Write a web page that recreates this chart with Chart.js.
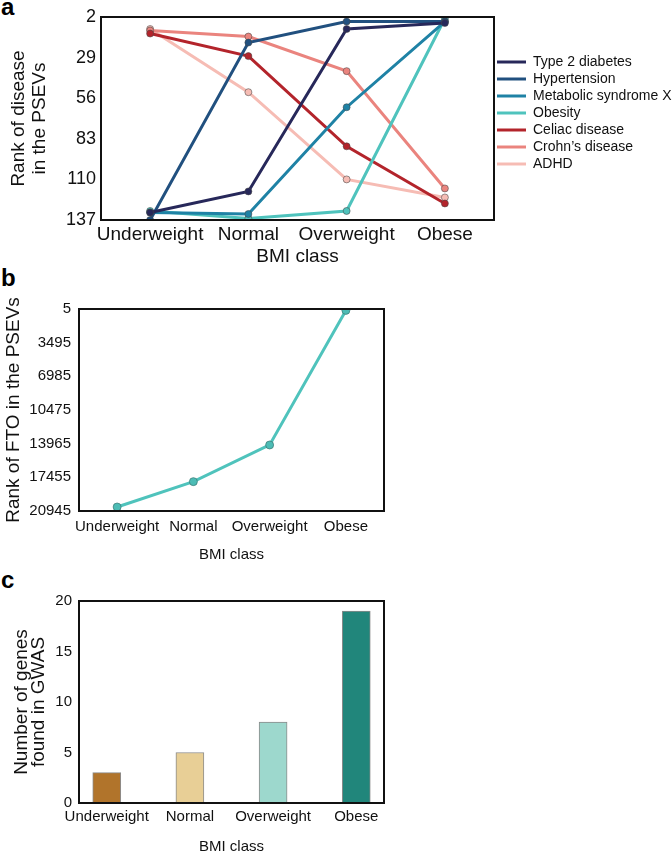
<!DOCTYPE html>
<html>
<head>
<meta charset="utf-8">
<script src="https://cdn.jsdelivr.net/npm/chart.js@4"></script>
<style>
  html, body { margin: 0; padding: 0; background: #fff; overflow: hidden; }
  body { width: 672px; height: 853px; position: relative; }
  canvas { position: absolute; left: 0; }
  .plabel { position: absolute; left: 1px; font: bold 24px "Liberation Sans", Arial, sans-serif; line-height: 24px; color: #000; }
</style>
</head>
<body>
<div class="plabel" style="top:-5px">a</div>
<div class="plabel" style="top:266px">b</div>
<div class="plabel" style="top:568px">c</div>
<canvas id="chartA" width="672" height="270" style="top:0px"></canvas>
<canvas id="chartB" width="672" height="290" style="top:280px"></canvas>
<canvas id="chartC" width="672" height="300" style="top:560px"></canvas>
<script>
// ---------------- data ----------------
const categories = ['Underweight', 'Normal', 'Overweight', 'Obese'];

// Panel a: rank of disease in the PSEVs
const diseaseNames = ['Type 2 diabetes', 'Hypertension', 'Metabolic syndrome X', 'Obesity', 'Celiac disease', 'Crohn\u2019s disease', 'ADHD'];
const type2Diabetes      = [132, 118, 10, 6];
const hypertension       = [137, 19, 5, 5];
const metabolicSyndromeX = [132, 133, 62, 5];
const obesityRank        = [131, 136, 131, 3];
const celiacDisease      = [13, 28, 88, 126];
const crohnsDisease      = [11, 15, 38, 116];
const adhd               = [10, 52, 110, 122];
const diseaseTicks = [2, 29, 56, 83, 110, 137];

// Panel b: rank of FTO in the PSEVs
const ftoRank = [20530, 17900, 14100, 150];
const ftoTicks = [5, 3495, 6985, 10475, 13965, 17455, 20945];

// Panel c: number of genes found in GWAS
const genesFound = [3, 5, 8, 19];
const genesTicks = [0, 5, 10, 15, 20];

// ---------------- styling ----------------
const diseaseColors = ['#27285a', '#21507f', '#1f82a5', '#4fc3bd', '#b3242b', '#ea847e', '#f6bcb4'];
const barColors = ['#b1742b', '#e8cf96', '#9dd8cd', '#21867b'];
const REG = '"Liberation Sans", Arial, sans-serif';

function hasFont(name) {
  const c = document.createElement('canvas').getContext('2d');
  const s = 'Underweight 20945 Obese';
  c.font = '40px monospace';
  const a = c.measureText(s).width;
  c.font = '40px "' + name + '", monospace';
  const b = c.measureText(s).width;
  return Math.abs(a - b) > 0.5;
}
const narrowOK = hasFont('Liberation Sans Narrow');
const NAR = narrowOK ? '"Liberation Sans Narrow", "Liberation Sans", Arial, sans-serif' : REG;
const NARSIZE = narrowOK ? 18 : 15;

Chart.defaults.color = '#111';
Chart.defaults.font.family = REG;
Chart.defaults.animation = false;

const framePlugin = {
  id: 'frame',
  afterDatasetsDraw(chart) {
    const {ctx, chartArea: a} = chart;
    ctx.save();
    ctx.strokeStyle = '#111';
    ctx.lineWidth = 2;
    ctx.strokeRect(a.left, a.top, a.right - a.left, a.bottom - a.top);
    ctx.restore();
  }
};

function fixW(w) { return s => { s.width = w; }; }
function fixH(h) { return s => { s.height = h; }; }
function ticksFrom(arr) { return s => { s.ticks = arr.map(v => ({value: v})); }; }

// ---------------- Panel a ----------------
const seriesA = [type2Diabetes, hypertension, metabolicSyndromeX, obesityRank, celiacDisease, crohnsDisease, adhd];
new Chart(document.getElementById('chartA'), {
  type: 'line',
  data: {
    labels: categories,
    datasets: seriesA.map((d, i) => ({
      label: diseaseNames[i],
      data: d,
      borderColor: diseaseColors[i],
      backgroundColor: diseaseColors[i],
      borderWidth: 3,
      pointRadius: 3.5,
      pointBackgroundColor: diseaseColors[i],
      pointBorderColor: 'rgba(70,70,70,0.55)',
      pointBorderWidth: 1,
      tension: 0,
      fill: false
    }))
  },
  options: {
    responsive: false,
    layout: { padding: { top: 17, right: 0, left: 0, bottom: 0 } },
    plugins: {
      tooltip: { enabled: false },
      legend: {
        position: 'right',
        align: 'start',
        fullSize: true,
        maxWidth: 178,
        title: { display: true, text: '', font: { size: 14, lineHeight: 1 }, padding: { top: 11, bottom: 10 } },
        labels: {
          boxWidth: 29,
          boxHeight: 3,
          padding: 3,
          color: '#111',
          font: { size: 14, family: REG },
          generateLabels(chart) {
            return chart.data.datasets.map((ds, i) => ({
              text: ds.label,
              fillStyle: ds.borderColor,
              strokeStyle: ds.borderColor,
              lineWidth: 0,
              hidden: false,
              datasetIndex: i,
              fontColor: '#111'
            }));
          }
        }
      }
    },
    scales: {
      x: {
        type: 'category',
        offset: true,
        afterFit: fixH(50),
        grid: { display: false, drawTicks: false },
        border: { display: false },
        ticks: { font: { size: 19, family: REG }, padding: 3, color: '#111', maxRotation: 0, autoSkip: false },
        title: { display: true, text: 'BMI class', font: { size: 19, family: REG }, color: '#111', padding: { top: 0, bottom: 2 } }
      },
      y: {
        reverse: true,
        min: 2,
        max: 137,
        afterFit: fixW(101),
        afterBuildTicks: ticksFrom(diseaseTicks),
        grid: { display: false, drawTicks: false },
        border: { display: false },
        ticks: { font: { size: 18, family: REG }, padding: 5, color: '#111', callback: v => String(v) },
        title: { display: true, text: ['Rank of disease', 'in the PSEVs'], font: { size: 19, family: REG, lineHeight: 1.1 }, color: '#111', padding: { top: 8 } }
      }
    }
  },
  plugins: [framePlugin]
});

// ---------------- Panel b ----------------
new Chart(document.getElementById('chartB'), {
  type: 'line',
  data: {
    labels: categories,
    datasets: [{
      label: 'FTO',
      data: ftoRank,
      borderColor: '#4fc3bc',
      backgroundColor: '#4fc3bc',
      borderWidth: 3,
      pointRadius: 4,
      pointBackgroundColor: '#4cbcb5',
      pointBorderColor: 'rgba(60,120,115,0.7)',
      pointBorderWidth: 1,
      tension: 0,
      fill: false
    }]
  },
  options: {
    responsive: false,
    layout: { padding: { top: 29, right: 288, left: 0, bottom: 0 } },
    plugins: { legend: { display: false }, tooltip: { enabled: false } },
    scales: {
      x: {
        type: 'category',
        offset: true,
        afterFit: fixH(59),
        grid: { display: false, drawTicks: false },
        border: { display: false },
        ticks: { font: { size: NARSIZE, family: NAR }, padding: 7, color: '#111', maxRotation: 0, autoSkip: false },
        title: { display: true, text: 'BMI class', font: { size: NARSIZE, family: NAR }, color: '#111', padding: { top: 0, bottom: 6 } }
      },
      y: {
        reverse: true,
        min: 5,
        max: 20945,
        afterFit: fixW(79),
        afterBuildTicks: ticksFrom(ftoTicks),
        grid: { display: false, drawTicks: false },
        border: { display: false },
        ticks: { font: { size: NARSIZE, family: NAR }, padding: 8, color: '#111', callback: v => String(v) },
        title: { display: true, text: 'Rank of FTO in the PSEVs', font: { size: 19, family: REG }, color: '#111', padding: { top: 2 } }
      }
    }
  },
  plugins: [framePlugin]
});

// ---------------- Panel c ----------------
new Chart(document.getElementById('chartC'), {
  type: 'bar',
  data: {
    datasets: [{
      label: 'Number of genes found in GWAS',
      data: genesFound.map((v, i) => ({ x: i, y: v })),
      backgroundColor: barColors,
      borderColor: 'rgba(110,110,110,0.8)',
      borderWidth: 1,
      borderSkipped: false,
      barThickness: 28
    }]
  },
  options: {
    responsive: false,
    layout: { padding: { top: 41, right: 288, left: 0, bottom: 0 } },
    plugins: { legend: { display: false }, tooltip: { enabled: false } },
    scales: {
      x: {
        type: 'linear',
        min: -1 / 3,
        max: 10 / 3,
        offset: false,
        afterFit: fixH(57),
        afterBuildTicks: ticksFrom(categories.map((c, i) => i)),
        grid: { display: false, drawTicks: false },
        border: { display: false },
        ticks: { font: { size: NARSIZE, family: NAR }, padding: 5, color: '#111', maxRotation: 0, autoSkip: false, callback: v => categories[v] },
        title: { display: true, text: 'BMI class', font: { size: NARSIZE, family: NAR }, color: '#111', padding: { top: 0, bottom: 4 } }
      },
      y: {
        min: 0,
        max: 20,
        afterFit: fixW(79),
        afterBuildTicks: ticksFrom(genesTicks),
        grid: { display: false, drawTicks: false },
        border: { display: false },
        ticks: { font: { size: NARSIZE, family: NAR }, padding: 7, color: '#111' },
        title: { display: true, text: ['Number of genes', 'found in GWAS'], font: { size: 19, family: REG, lineHeight: 0.9 }, color: '#111', padding: { top: 13 } }
      }
    }
  },
  plugins: [framePlugin]
});
</script>
</body>
</html>
